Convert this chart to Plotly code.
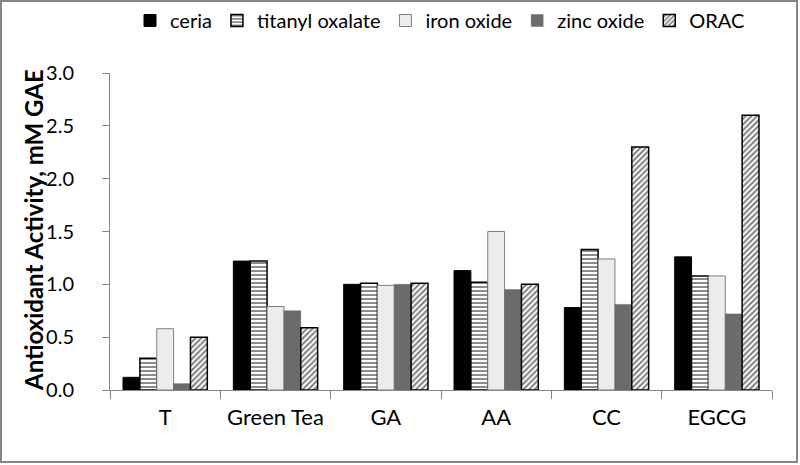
import plotly.graph_objects as go

categories = ["T", "Green Tea", "GA", "AA", "CC", "EGCG"]
ceria = [0.12, 1.22, 1.00, 1.13, 0.78, 1.26]
titanyl_oxalate = [0.30, 1.22, 1.01, 1.02, 1.33, 1.08]
iron_oxide = [0.58, 0.79, 0.99, 1.50, 1.24, 1.08]
zinc_oxide = [0.06, 0.75, 1.00, 0.95, 0.81, 0.72]
orac = [0.50, 0.59, 1.01, 1.00, 2.30, 2.60]
y_ticks = [0.0, 0.5, 1.0, 1.5, 2.0, 2.5, 3.0]
y_title = "Antioxidant Activity, mM GAE"

FONT = "Lato"

fig = go.Figure()
fig.add_trace(go.Bar(name="ceria", x=categories, y=ceria,
                     marker=dict(color="#000000", line=dict(color="#000000", width=1))))
fig.add_trace(go.Bar(name="titanyl oxalate", x=categories, y=titanyl_oxalate,
                     marker=dict(color="#ffffff", line=dict(color="#000000", width=1.5),
                                 pattern=dict(shape="-", fgcolor="#000000", bgcolor="#ffffff",
                                              size=4, solidity=0.45, fillmode="overlay"))))
fig.add_trace(go.Bar(name="iron oxide", x=categories, y=iron_oxide,
                     marker=dict(color="#ececec", line=dict(color="#808080", width=1))))
fig.add_trace(go.Bar(name="zinc oxide", x=categories, y=zinc_oxide,
                     marker=dict(color="#6b6b6b", line=dict(color="#6b6b6b", width=0.5))))
fig.add_trace(go.Bar(name="ORAC", x=categories, y=orac,
                     marker=dict(color="#ffffff", line=dict(color="#000000", width=1.5),
                                 pattern=dict(shape="/", fgcolor="#000000", bgcolor="#ffffff",
                                              size=4, solidity=0.5, fillmode="overlay"))))

L, R, T, B = 110, 28, 73, 75
W, H = 800, 465
pw, ph = W - L - R, H - T - B

fig.update_layout(
    width=W, height=H,
    margin=dict(l=L, r=R, t=T, b=B),
    paper_bgcolor="#ffffff", plot_bgcolor="#ffffff",
    barmode="group", bargap=0.236, bargroupgap=0,
    font=dict(family=FONT, size=21, color="#000000"),
    legend=dict(orientation="h", x=1 - 22 / pw, xanchor="right",
                yref="container", y=1 - 1 / H, yanchor="top",
                font=dict(family=FONT, size=20), itemwidth=30, tracegroupgap=0,
                bgcolor="rgba(0,0,0,0)"),
    xaxis=dict(showline=True, linecolor="#868686", linewidth=1, ticks="outside",
               tickson="boundaries", ticklen=8, tickcolor="#868686",
               tickfont=dict(family=FONT, size=22), showgrid=False, ticklabelstandoff=8),
    yaxis=dict(range=[0, 3.0], tickvals=y_ticks, ticktext=[f"{v:.1f}" for v in y_ticks],
               showline=True, linecolor="#868686", linewidth=1, ticks="outside",
               ticklen=7, tickcolor="#868686", showgrid=False, zeroline=False,
               tickfont=dict(family=FONT, size=20), ticklabelstandoff=24),
    annotations=[dict(text=f"<b>{y_title}</b>", textangle=-90, showarrow=False,
                      xref="paper", yref="paper", x=(33 - L) / pw, y=(H - B - 230) / ph,
                      xanchor="center", yanchor="middle",
                      font=dict(family=FONT, size=24, color="#000000"))],
    shapes=[dict(type="rect", xref="paper", yref="paper",
                 x0=(1 - L) / pw, x1=(W - 3 - L) / pw,
                 y0=(H - B - (H - 3)) / ph, y1=(H - B - 1) / ph,
                 line=dict(color="#868686", width=2), fillcolor="rgba(0,0,0,0)", layer="below")],
)

fig.write_html("out.html", config={"displayModeBar": False},
               post_script="document.body.style.margin='0';")
